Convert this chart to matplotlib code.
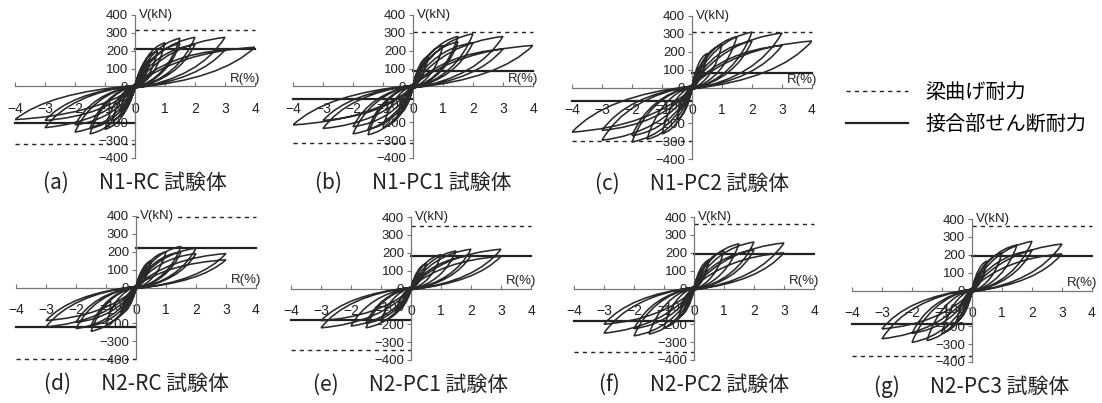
import matplotlib
matplotlib.use("Agg")
import matplotlib.pyplot as plt
from matplotlib.path import Path
from matplotlib.patches import PathPatch
from matplotlib.lines import Line2D

plt.rcParams['font.family'] = ['Liberation Sans', 'DejaVu Sans']
JP = ['Noto Sans CJK JP', 'DejaVu Sans']

# --- specimen data ---
tags = ["(a)", "(b)", "(c)", "(d)", "(e)", "(f)", "(g)"]
names = ["N1-RC", "N1-PC1", "N1-PC2", "N2-RC", "N2-PC1", "N2-PC2", "N2-PC3"]

# beam flexural strength (dashed) / joint shear strength (solid), kN
beam_pos = [315, 305, 310, 392, 348, 360, 359]
beam_neg = [-320, -315, -300, -398, -346, -355, -366]
joint_pos = [212, 85, 82, 221, 184, 193, 192]
joint_neg = [-206, -70, -76, -220, -176, -182, -190]

# peak drift R (%) and shear V (kN) of each loading cycle
a_Rp = [0.25, 0.5, 0.75, 1.0, 1.5, 1.5, 2.0, 2.0, 3.0, 3.0, 4.0]
a_Vp = [90, 150, 200, 245, 270, 240, 275, 235, 275, 205, 220]
a_Rn = [-0.25, -0.5, -0.75, -1.0, -1.5, -1.5, -2.0, -2.0, -3.0, -3.0, -4.0]
a_Vn = [-85, -140, -190, -240, -265, -235, -255, -215, -230, -190, -185]

b_Rp = [0.25, 0.5, 1.0, 1.5, 1.5, 2.0, 2.0, 3.0, 3.0, 4.0]
b_Vp = [100, 170, 230, 280, 250, 295, 245, 280, 210, 230]
b_Rn = [-0.25, -0.5, -1.0, -1.5, -1.5, -2.0, -2.0, -3.0, -3.0, -4.0]
b_Vn = [-90, -160, -230, -270, -240, -265, -225, -235, -190, -215]

c_Rp = [0.25, 0.5, 1.0, 1.5, 2.0, 2.0, 3.0, 3.0, 4.0]
c_Vp = [110, 190, 240, 285, 310, 260, 305, 235, 260]
c_Rn = [-0.25, -0.5, -1.0, -1.5, -2.0, -2.0, -3.0, -3.0, -4.0]
c_Vn = [-100, -180, -260, -290, -305, -270, -295, -240, -250]

d_Rp = [0.25, 0.5, 1.0, 1.5, 1.5, 2.0, 2.0, 3.0, 3.0]
d_Vp = [90, 150, 200, 230, 200, 220, 190, 190, 155]
d_Rn = [-0.25, -0.5, -1.0, -1.5, -1.5, -2.0, -2.0, -3.0, -3.0]
d_Vn = [-85, -150, -205, -245, -215, -230, -195, -220, -185]

e_Rp = [0.25, 0.5, 1.0, 1.5, 2.0, 2.0, 3.0, 3.0]
e_Vp = [80, 140, 190, 210, 220, 185, 220, 180]
e_Rn = [-0.25, -0.5, -1.0, -1.5, -1.5, -2.0, -3.0, -3.0]
e_Vn = [-75, -130, -185, -220, -195, -210, -220, -180]

f_Rp = [0.25, 0.5, 1.0, 1.5, 2.0, 2.0, 3.0, 3.0]
f_Vp = [90, 160, 210, 250, 260, 215, 255, 200]
f_Rn = [-0.25, -0.5, -1.0, -1.5, -2.0, -2.0, -3.0, -3.0]
f_Vn = [-90, -160, -220, -255, -265, -225, -250, -200]

g_Rp = [0.25, 0.5, 1.0, 1.5, 2.0, 2.0, 3.0, 3.0]
g_Vp = [95, 165, 210, 255, 275, 225, 260, 205]
g_Rn = [-0.25, -0.5, -1.0, -1.5, -2.0, -2.0, -3.0, -3.0]
g_Vn = [-95, -170, -240, -280, -290, -240, -270, -215]

cycles = [(a_Rp, a_Vp, a_Rn, a_Vn), (b_Rp, b_Vp, b_Rn, b_Vn), (c_Rp, c_Vp, c_Rn, c_Vn),
          (d_Rp, d_Vp, d_Rn, d_Vn), (e_Rp, e_Vp, e_Rn, e_Vn), (f_Rp, f_Vp, f_Rn, f_Vn),
          (g_Rp, g_Vp, g_Rn, g_Vn)]


def loop_path(rp, vp, rn, vn):
    # each half cycle: curved loading up to the peak, then unloading back through the origin
    verts = [(0, 0)]
    codes = [Path.MOVETO]
    for r1, v1, r2, v2 in zip(rp, vp, rn, vn):
        verts += [(0.35 * r1, 0.87 * v1), (r1, v1), (0.72 * r1, 0.18 * v1), (0, -0.03 * v1),
                  (0.35 * r2, 0.87 * v2), (r2, v2), (0.72 * r2, 0.18 * v2), (0, -0.03 * v2)]
        codes += [Path.CURVE3] * 8
    return Path(verts, codes)


W, H = 1102, 403
fig = plt.figure(figsize=(W / 100, H / 100), dpi=100)

# panel placement in pixels (left, top)
panel_px = [(15, 15), (293, 15), (572, 16), (16, 216), (291, 217), (574, 217), (852, 219)]
pw, ph = 240, 143
ink = '#222222'
dash = (0, (3, 3))

for i, (l, t) in enumerate(panel_px):
    ax = fig.add_axes([l / W, 1 - (t + ph) / H, pw / W, ph / H])
    ax.patch.set_alpha(0)
    ax.set_xlim(-4, 4)
    ax.set_ylim(-400, 400)
    for s in ['top', 'right']:
        ax.spines[s].set_visible(False)
    ax.spines['left'].set_position(('data', 0))
    ax.spines['bottom'].set_position(('data', 0))
    for s in ['left', 'bottom']:
        ax.spines[s].set_color('#777777')
        ax.spines[s].set_linewidth(0.9)
    ax.set_xticks(range(-4, 5))
    ax.set_yticks(range(-400, 401, 100))
    ax.tick_params(axis='x', direction='in', length=3, pad=11, labelsize=10,
                   colors='#777777', labelcolor='#222222')
    ax.tick_params(axis='y', direction='out', length=3, pad=2, labelsize=9.5,
                   colors='#777777', labelcolor='#222222')

    # strength lines
    ax.plot([0, 4], [beam_pos[i], beam_pos[i]], color=ink, lw=1.0, ls=dash, clip_on=False)
    ax.plot([-4, 0], [beam_neg[i], beam_neg[i]], color=ink, lw=1.0, ls=dash, clip_on=False)
    ax.plot([0, 4], [joint_pos[i], joint_pos[i]], color=ink, lw=1.6, clip_on=False)
    ax.plot([-4, 0], [joint_neg[i], joint_neg[i]], color=ink, lw=1.6, clip_on=False)

    ax.add_patch(PathPatch(loop_path(*cycles[i]), fill=False, edgecolor='#2a2a2a',
                           lw=1.15, zorder=3))

    ax.text(0.515, 1.0, 'V(kN)', transform=ax.transAxes, ha='left', va='center',
            fontsize=9.5, color='#222222', zorder=4,
            bbox=dict(facecolor='white', edgecolor='none', pad=0.3))
    ax.text(1.02, 0.55, 'R(%)', transform=ax.transAxes, ha='right', va='center',
            fontsize=9.5, color='#222222')
    ax.text(0.5, -0.175, tags[i] + '\u3000  ' + names[i] + ' 試験体', transform=ax.transAxes,
            ha='center', va='center', fontsize=15, family=JP, color='#222222')

handles = [Line2D([], [], color=ink, lw=1.0, ls=dash), Line2D([], [], color=ink, lw=1.6)]
fig.legend(handles, ['梁曲げ耐力', '接合部せん断耐力'], loc='upper left',
           bbox_to_anchor=(846 / W, 1 - 82 / H), frameon=False, borderpad=0,
           borderaxespad=0, handlelength=3.1, handletextpad=0.85, labelspacing=0.55,
           prop={'family': JP, 'size': 14.5})

fig.savefig('out.png', dpi=100)
